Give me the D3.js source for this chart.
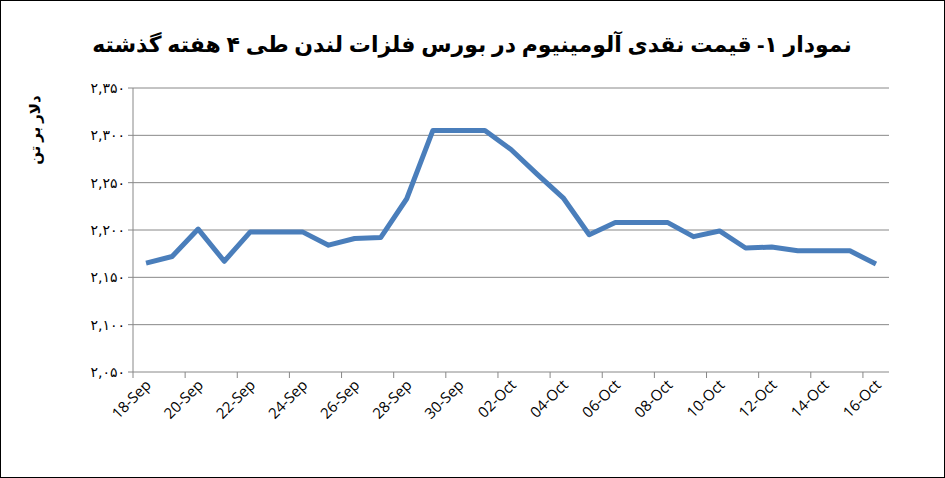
<!DOCTYPE html><html><head><meta charset="utf-8"><script src="https://cdn.jsdelivr.net/npm/d3@7"></script>
<style>body{margin:0;background:#fff}</style></head><body><svg id="c" width="945" height="478"></svg>
<script>
const categories=["18-Sep","19-Sep","20-Sep","21-Sep","22-Sep","23-Sep","24-Sep","25-Sep","26-Sep","27-Sep","28-Sep","29-Sep","30-Sep","01-Oct","02-Oct","03-Oct","04-Oct","05-Oct","06-Oct","07-Oct","08-Oct","09-Oct","10-Oct","11-Oct","12-Oct","13-Oct","14-Oct","15-Oct","16-Oct"];
const values=[2165,2172,2201,2167,2198,2198,2198,2184,2191,2192,2233,2305,2305,2305,2285,2259,2234,2195,2208,2208,2208,2193,2199,2181,2182,2178,2178,2178,2164];
const yTicks=[2050,2100,2150,2200,2250,2300,2350];
const title="نمودار ۱- قیمت نقدی آلومینیوم در بورس فلزات لندن طی ۴ هفته گذشته";
const yTitle="دلار بر تن";
function faNum(n){const s=String(n);return (s[0]+","+s.slice(1)).replace(/\d/g,d=>"۰۱۲۳۴۵۶۷۸۹"[d]);}
const svg=d3.select("#c");
svg.append("rect").attr("x",0.5).attr("y",0.5).attr("width",944).attr("height",477).attr("fill","#fff").attr("stroke","#000");
const L=133,R=889,T=88,B=372;
const x=d3.scaleBand().domain(categories).range([L,R]);
const y=d3.scaleLinear().domain([2050,2350]).range([B,T]);
svg.append("g").selectAll("line").data(yTicks).join("line").attr("x1",L).attr("x2",R).attr("y1",d=>y(d)).attr("y2",d=>y(d)).attr("stroke","#888");
svg.append("line").attr("x1",L).attr("x2",L).attr("y1",T).attr("y2",B).attr("stroke","#888");
svg.append("g").selectAll("line").data(yTicks).join("line").attr("x1",L-5).attr("x2",L).attr("y1",d=>y(d)).attr("y2",d=>y(d)).attr("stroke","#888");
svg.append("g").selectAll("text").data(yTicks).join("text").attr("x",L-8).attr("y",d=>y(d)+5).attr("text-anchor","end").attr("font-family","DejaVu Sans").attr("font-size",14).text(faNum);
const tickIdx=d3.range(0,categories.length+1,2);
svg.append("g").selectAll("line").data(tickIdx).join("line").attr("x1",i=>L+i*x.step()).attr("x2",i=>L+i*x.step()).attr("y1",B).attr("y2",B+6).attr("stroke","#888");
svg.append("g").selectAll("text").data(categories.filter((d,i)=>i%2==0)).join("text")
 .attr("transform",d=>`translate(${x(d)+x.bandwidth()/2+6},${B+14}) rotate(-45)`).attr("text-anchor","end")
 .attr("font-family","Open Sans").attr("font-size",15).text(d=>d);
svg.append("path").datum(values).attr("fill","none").attr("stroke","#4a7ebb").attr("stroke-width",5).attr("stroke-linejoin","round")
 .attr("d",d3.line().x((d,i)=>x(categories[i])+x.bandwidth()/2).y(d=>y(d)));
svg.append("text").attr("x",472).attr("y",52).attr("text-anchor","middle").attr("direction","rtl").attr("font-family","Noto Sans, DejaVu Sans").attr("font-weight","bold").attr("font-size",22).text(title);
svg.append("text").attr("transform","translate(40,130) rotate(-90)").attr("text-anchor","middle").attr("direction","rtl").attr("font-family","Noto Sans, DejaVu Sans").attr("font-weight","bold").attr("font-size",15).text(yTitle);
</script></body></html>
